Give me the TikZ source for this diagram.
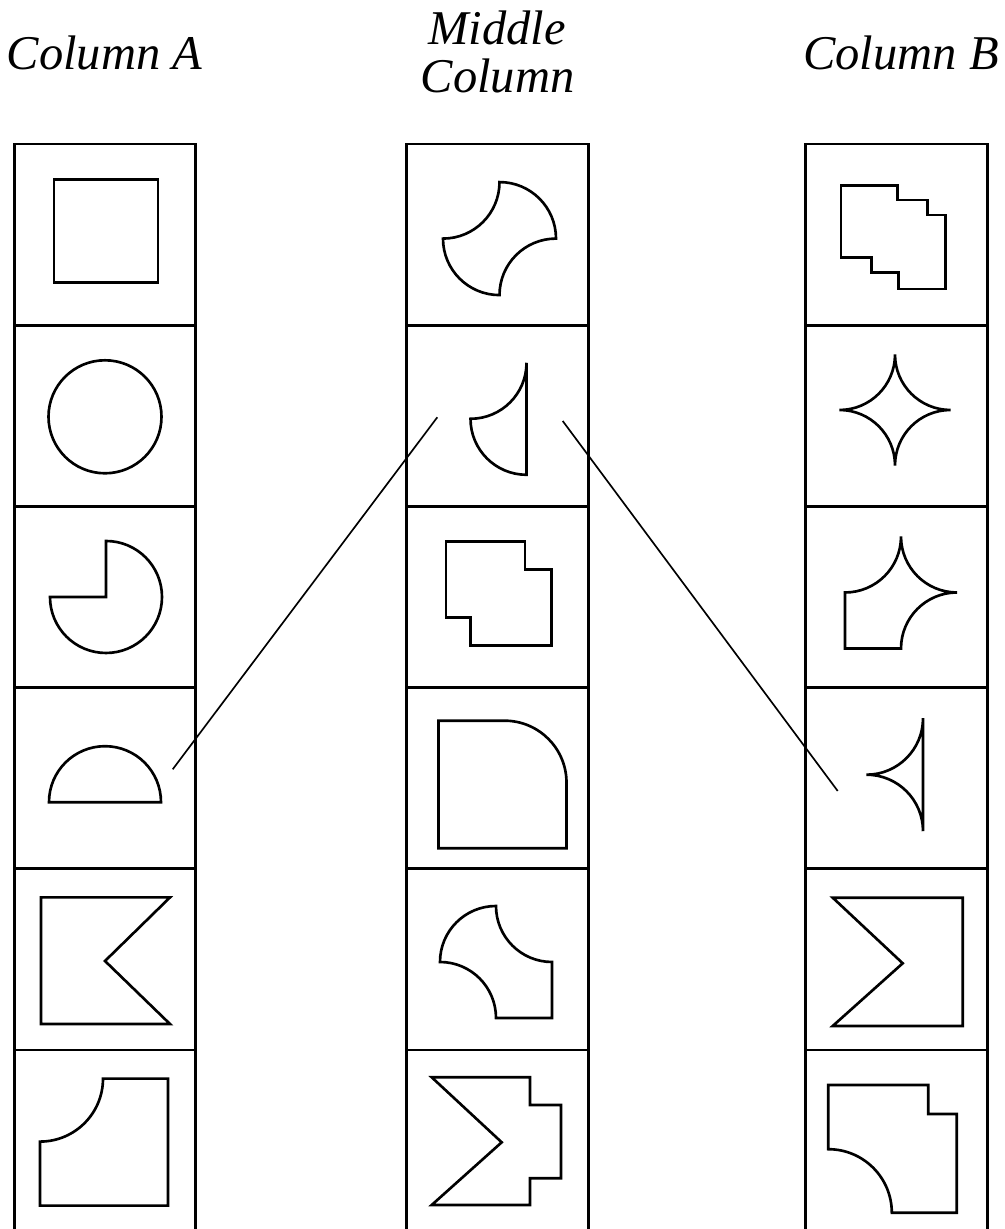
\documentclass[tikz,border=0pt]{standalone}
\usepackage{fontspec}
\setmainfont{Liberation Serif}
\begin{document}
\begin{tikzpicture}[x=0.02cm,y=0.02cm,
  cellbox/.style={draw, line width=1.65pt, inner sep=0pt, minimum width=3.63cm, minimum height=3.624cm},
  fig/.style={draw, line width=1.5pt},
  link/.style={draw, line width=0.95pt},
  title/.style={font=\fontsize{27.6}{26}\selectfont\itshape, inner sep=0pt, anchor=base}]
\useasboundingbox (0,0) rectangle (1004,1229);

% titles
\node[title] (tA) at (104.5,1159) {Column A};
\node[title] (tM1) at (497,1184) {Middle};
\node[title] (tM2) at (497.5,1136) {Column};
\node[title] (tB) at (901,1159) {Column B};

% cells
\foreach \c/\x in {A/105, M/497.5, B/896.5}{
  \foreach \r/\y in {1/994.4, 2/813.2, 3/632, 4/450.8, 5/269.6, 6/88.4}{
    \node[cellbox] (\c\r) at (\x,\y) {};
  }
}

% Column A shapes
\begin{scope}[shift={(A1.center)}]
  \draw[fig] (-51,-48) rectangle (53,55);
\end{scope}
\begin{scope}[shift={(A2.center)}]
  \draw[fig] (0,-1) circle[radius=56.5];
\end{scope}
\begin{scope}[shift={(A3.center)}]
  \draw[fig] (1,0) -- (1,56) arc[start angle=90,end angle=-180,radius=56] -- cycle;
\end{scope}
\begin{scope}[shift={(A4.center)}]
  \draw[fig] (-56,-24) arc[start angle=180,end angle=0,radius=56] -- cycle;
\end{scope}
\begin{scope}[shift={(A5.center)}]
  \draw[fig] (-64,62) -- (65,62) -- (0,-1.6) -- (65,-64.6) -- (-64,-64.6) -- cycle;
\end{scope}
\begin{scope}[shift={(A6.center)}]
  \draw[fig] (-2,62) -- (63,62) -- (63,-65) -- (-65,-65) -- (-65,-1)
    arc[start angle=-90,end angle=0,radius=63] -- cycle;
\end{scope}

% Middle column shapes
\begin{scope}[shift={(M1.center)}]
 \begin{scope}[shift={(2,-4)}]
  \draw[fig] (0,56.5) arc[start angle=90,end angle=0,radius=56.5]
    arc[start angle=90,end angle=180,radius=56.5]
    arc[start angle=270,end angle=180,radius=56.5]
    arc[start angle=270,end angle=360,radius=56.5] -- cycle;
 \end{scope}
\end{scope}
\begin{scope}[shift={(M2.center)}]
  \draw[fig] (29,53) arc[start angle=0,end angle=-90,radius=56]
    arc[start angle=180,end angle=270,radius=56] -- cycle;
\end{scope}
\begin{scope}[shift={(M3.center)}]
  \draw[fig] (-51.5,55.3) -- (27.5,55.3) -- (27.5,27.7) -- (54.2,27.7) -- (54.2,-48.7)
    -- (-26.8,-48.7) -- (-26.8,-20.7) -- (-51.5,-20.7) -- cycle;
\end{scope}
\begin{scope}[shift={(M4.center)}]
  \draw[fig] (-59,57.5) -- (7,57.5) arc[start angle=90,end angle=0,radius=62]
    -- (69,-70) -- (-59,-70) -- cycle;
\end{scope}
\begin{scope}[shift={(M5.center)}]
 \begin{scope}[shift={(-1.5,-2.6)}]
  \draw[fig] (0,56) arc[start angle=90,end angle=180,radius=56]
    arc[start angle=90,end angle=0,radius=56] -- (56,-56) -- (56,0)
    arc[start angle=270,end angle=180,radius=56] -- cycle;
 \end{scope}
\end{scope}
\begin{scope}[shift={(M6.center)}]
  \draw[fig] (-65.8,63.3) -- (32.5,63.3) -- (32.5,35.6) -- (63.5,35.6) -- (63.5,-37.7)
    -- (32.5,-37.7) -- (32.5,-64.4) -- (-65.8,-64.4) -- (4.2,-1.7) -- cycle;
\end{scope}

% Column B shapes
\begin{scope}[shift={(B1.center)}]
  \draw[fig] (-55.5,48.9) -- (0.8,48.9) -- (0.8,34.6) -- (30.8,34.6) -- (30.8,19.6)
    -- (49.2,19.6) -- (49.2,-54.4) -- (1.8,-54.4) -- (1.8,-38.1) -- (-24.8,-38.1)
    -- (-24.8,-23.1) -- (-55.5,-23.1) -- cycle;
\end{scope}
\begin{scope}[shift={(B2.center)}]
 \begin{scope}[shift={(-1.5,5.8)}]
  \draw[fig] (0,55.5) arc[start angle=180,end angle=270,radius=55.5]
    arc[start angle=90,end angle=180,radius=55.5]
    arc[start angle=0,end angle=90,radius=55.5]
    arc[start angle=270,end angle=360,radius=55.5] -- cycle;
 \end{scope}
\end{scope}
\begin{scope}[shift={(B3.center)}]
 \begin{scope}[shift={(4.5,4.5)}]
  \draw[fig] (-56,0) arc[start angle=270,end angle=360,radius=56]
    arc[start angle=180,end angle=270,radius=56]
    arc[start angle=90,end angle=180,radius=56] -- (-56,-56) -- cycle;
 \end{scope}
\end{scope}
\begin{scope}[shift={(B4.center)}]
  \draw[fig] (26.5,60) arc[start angle=0,end angle=-90,radius=56.5]
    arc[start angle=90,end angle=0,radius=56.5] -- cycle;
\end{scope}
\begin{scope}[shift={(B5.center)}]
  \draw[fig] (-63.8,61.7) -- (66.2,61.7) -- (66.2,-66.6) -- (-63.8,-66.6) -- (6.2,-3.9) -- cycle;
\end{scope}
\begin{scope}[shift={(B6.center)}]
  \draw[fig] (-68.2,55.6) -- (31.8,55.6) -- (31.8,26.6) -- (60.2,26.6) -- (60.2,-72.1)
    -- (-4.7,-72.1) arc[start angle=0,end angle=90,radius=63.5] -- cycle;
\end{scope}

% connectors
\coordinate (ca) at (172.7,459.7);
\coordinate (cb) at (437.3,811.7);
\coordinate (cc) at (562.7,808);
\coordinate (cd) at (837.7,438);
\draw[link] (ca) -- (cb);
\draw[link] (cc) -- (cd);
\end{tikzpicture}
\end{document}
